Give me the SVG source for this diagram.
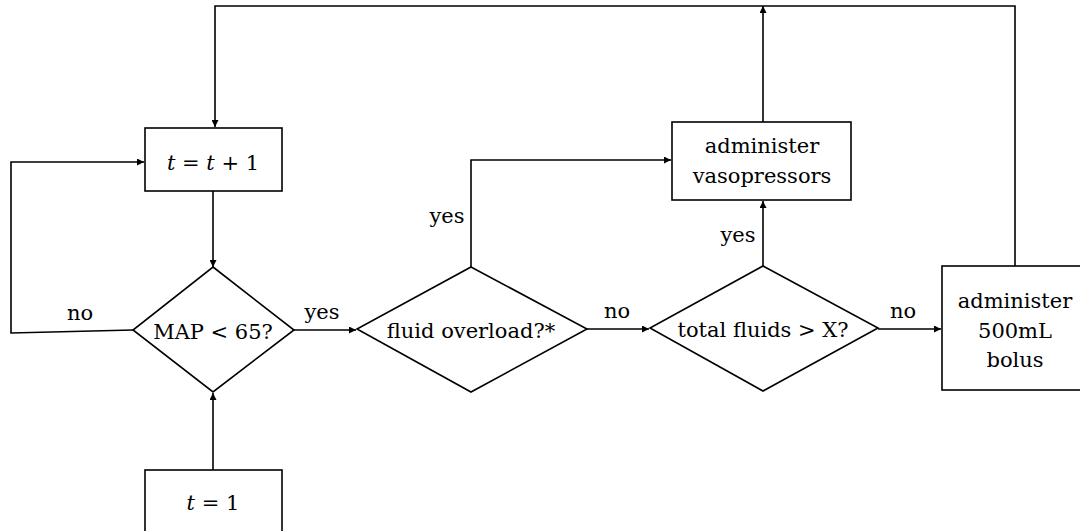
<svg xmlns="http://www.w3.org/2000/svg" width="1080" height="531" viewBox="0 0 1080 531">
  <defs>
    <marker id="arrow" viewBox="0 0 10 10" refX="10" refY="5" markerWidth="8" markerHeight="7" markerUnits="userSpaceOnUse" orient="auto">
      <path d="M0,0 L10,5 L0,10 Z" fill="#000"/>
    </marker>
    <style>
      .shape { fill: #fff; stroke: #000; stroke-width: 1.6; }
      .edge { fill: none; stroke: #000; stroke-width: 1.6; }
      .arr { marker-end: url(#arrow); }
      text { font-family: "DejaVu Serif", "Liberation Serif", serif; font-size: 21px; fill: #000; text-anchor: middle; }
      .lbl { font-size: 21px; }
      .it { font-style: italic; }
    </style>
  </defs>
  <rect width="1080" height="531" fill="#fff"/>

  <!-- connectors -->
  <g id="connectors">
    <!-- start -> MAP check -->
    <path class="edge arr" d="M213,470 L213,393"/>
    <!-- t = t + 1 -> MAP check -->
    <path class="edge arr" d="M213,191 L213,267"/>
    <!-- MAP no -> loop back to t = t + 1 -->
    <path class="edge arr" d="M133,330 L11,333 L11,162 L144,162"/>
    <!-- MAP yes -> fluid overload -->
    <path class="edge arr" d="M294,330 L356,330"/>
    <!-- fluid overload yes -> vasopressors -->
    <path class="edge arr" d="M471,267 L471,160 L671,160"/>
    <!-- fluid overload no -> total fluids -->
    <path class="edge arr" d="M587,329 L649,329"/>
    <!-- total fluids yes -> vasopressors -->
    <path class="edge arr" d="M763,266 L763,201"/>
    <!-- total fluids no -> bolus -->
    <path class="edge arr" d="M878,329 L941,329"/>
    <!-- vasopressors -> top return line -->
    <path class="edge arr" d="M763,122 L763,6"/>
    <!-- bolus -> back to t = t + 1 -->
    <path class="edge arr" d="M1015,266 L1015,6 L215,6 L215,127"/>

    <text class="lbl" x="80" y="320">no</text>
    <text class="lbl" x="322" y="319">yes</text>
    <text class="lbl" x="447" y="223">yes</text>
    <text class="lbl" x="617" y="318">no</text>
    <text class="lbl" x="738" y="242">yes</text>
    <text class="lbl" x="903" y="318">no</text>
  </g>

  <g id="node-start">
    <rect class="shape" x="145" y="470" width="137" height="70"/>
    <text x="213" y="510"><tspan class="it">t</tspan> = 1</text>
  </g>

  <g id="node-increment">
    <rect class="shape" x="145" y="128" width="137" height="63"/>
    <text x="213" y="170"><tspan class="it">t</tspan> = <tspan class="it">t</tspan> + 1</text>
  </g>

  <g id="node-map">
    <polygon class="shape" points="213,267 294,330 213,392 133,330"/>
    <text x="213" y="339">MAP &lt; 65?</text>
  </g>

  <g id="node-overload">
    <polygon class="shape" points="471,267 587,329 471,392 357,329"/>
    <text x="471" y="338">fluid overload?*</text>
  </g>

  <g id="node-total">
    <polygon class="shape" points="763,266 878,328 763,391 650,328"/>
    <text x="763" y="337">total fluids &gt; X?</text>
  </g>

  <g id="node-vasopressors">
    <rect class="shape" x="672" y="122" width="179" height="78"/>
    <text x="762" y="153">administer</text>
    <text x="762" y="183">vasopressors</text>
  </g>

  <g id="node-bolus">
    <rect class="shape" x="942" y="266" width="145" height="124"/>
    <text x="1015" y="308">administer</text>
    <text x="1015" y="338">500mL</text>
    <text x="1015" y="367">bolus</text>
  </g>
</svg>
